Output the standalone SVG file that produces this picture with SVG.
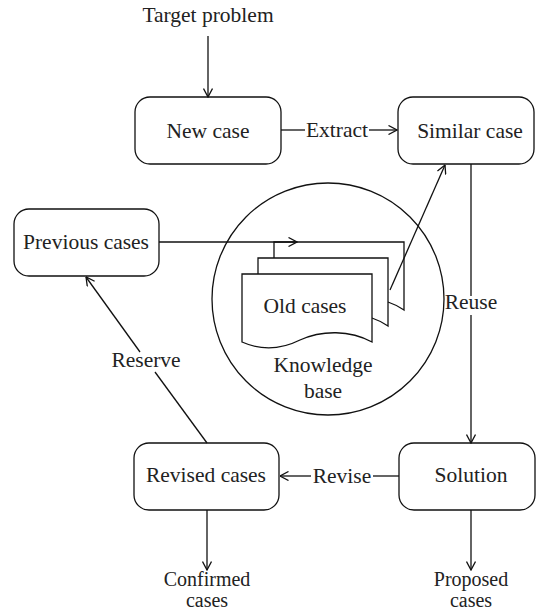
<svg xmlns="http://www.w3.org/2000/svg" width="536" height="613" viewBox="0 0 536 613">
<style>
text{font-family:"Liberation Serif","Times New Roman",serif;font-size:21.5px;fill:#222;text-anchor:middle}
.sm{font-size:20px}
.box{fill:#fff;stroke:#111;stroke-width:1.3}
.ln{fill:none;stroke:#111;stroke-width:1.3}
.arr{marker-end:url(#ah)}
</style>
<defs>
<marker id="ah" viewBox="0 0 10 10" refX="9.5" refY="5" markerWidth="10" markerHeight="10" markerUnits="userSpaceOnUse" orient="auto">
<path d="M1,0.5 L9.5,5 L1,9.5" fill="none" stroke="#111" stroke-width="1.3"/>
</marker>
</defs>
<rect width="536" height="613" fill="#fff"/>
<g id="target"><text x="208" y="22">Target problem</text></g>
<g id="kb">
<circle cx="328" cy="299" r="116" class="ln"/>
<path d="M274,242 H404 V310 C398,306 394,304 388,302 L388,330 L274,330 Z" fill="#fff" stroke="none"/>
<path d="M274,258 V242 H404 V310 C398,306 394,304 388,302" class="ln"/>
<path d="M258,274 V258 H388 V326 C382,322 378,320 372,318" class="ln"/>
<path d="M242,274 H372 V342 C350,330 322,330 300,340 C280,350 260,350 242,342 Z" class="box"/>
<text x="305" y="313">Old cases</text>
<text x="323" y="372">Knowledge</text>
<text x="323" y="398">base</text>
</g>
<g id="new-case"><rect x="135" y="97" width="146" height="67" rx="15" class="box"/><text x="208" y="138">New case</text></g>
<g id="similar-case"><rect x="398" y="97" width="136" height="67" rx="15" class="box"/><text x="470" y="138">Similar case</text></g>
<g id="previous-cases"><rect x="14" y="209" width="145" height="67" rx="15" class="box"/><text x="86" y="249">Previous cases</text></g>
<g id="revised-cases"><rect x="134" y="443" width="145" height="67" rx="15" class="box"/><text x="206" y="482">Revised cases</text></g>
<g id="solution"><rect x="399" y="443" width="136" height="67" rx="15" class="box"/><text x="471" y="482">Solution</text></g>
<g id="confirmed"><text class="sm" x="207" y="586">Confirmed</text><text class="sm" x="207" y="607">cases</text></g>
<g id="proposed"><text class="sm" x="471" y="586">Proposed</text><text class="sm" x="471" y="607">cases</text></g>
<g id="connectors">
<line x1="208" y1="36" x2="208" y2="97" class="ln arr"/>
<line x1="281" y1="130" x2="305" y2="130" class="ln"/>
<line x1="369" y1="130" x2="397" y2="130" class="ln arr"/>
<text x="337" y="137">Extract</text>
<line x1="159" y1="242" x2="297" y2="242" class="ln arr"/>
<line x1="390" y1="290" x2="445" y2="165" class="ln arr"/>
<line x1="471" y1="164" x2="471" y2="296" class="ln"/>
<line x1="471" y1="315" x2="471" y2="443" class="ln arr"/>
<text x="471" y="309">Reuse</text>
<line x1="399" y1="476" x2="373" y2="476" class="ln"/>
<line x1="311" y1="476" x2="280" y2="476" class="ln arr"/>
<text x="342" y="483">Revise</text>
<line x1="207" y1="443" x2="155" y2="372" class="ln"/>
<line x1="140" y1="352" x2="86" y2="277" class="ln arr"/>
<text x="146" y="367">Reserve</text>
<line x1="207" y1="510" x2="207" y2="570" class="ln arr"/>
<line x1="471" y1="510" x2="471" y2="570" class="ln arr"/>
</g>
</svg>
